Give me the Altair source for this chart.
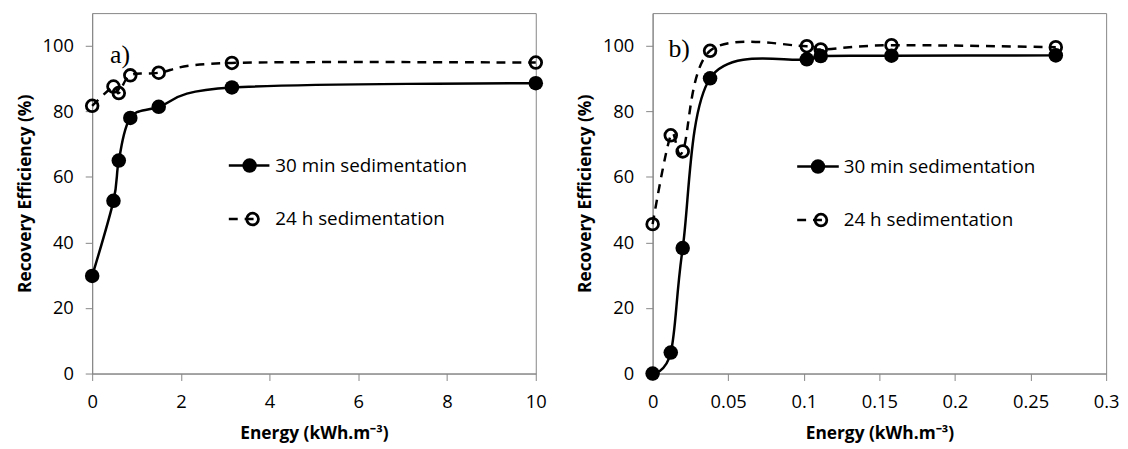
import altair as alt
import pandas as pd

# ---------------- data ----------------
# Panel a)
a_x_30min = [0.0, 0.48, 0.6, 0.86, 1.5, 3.15, 10.0]
a_y_30min = [29.8, 52.7, 65.0, 78.0, 81.4, 87.3, 88.6]
a_x_24h = [0.0, 0.48, 0.6, 0.86, 1.5, 3.15, 10.0]
a_y_24h = [81.7, 87.6, 85.6, 91.0, 91.8, 94.8, 94.9]

# Panel b)
b_x_30min = [0.0, 0.012, 0.0199, 0.038, 0.1020, 0.1112, 0.158, 0.2667]
b_y_30min = [0.0, 6.4, 38.3, 90.1, 95.9, 96.9, 97.0, 97.1]
b_x_24h = [0.0, 0.012, 0.0199, 0.038, 0.1020, 0.1112, 0.158, 0.2667]
b_y_24h = [45.6, 72.7, 67.8, 98.5, 99.9, 98.9, 100.2, 99.6]

series_names = ["30 min sedimentation", "24 h sedimentation"]
panel_labels = ["a)", "b)"]
a_ticks = [0, 2, 4, 6, 8, 10]
b_ticks = [0, 0.05, 0.1, 0.15, 0.2, 0.25, 0.3]
y_ticks = [0, 20, 40, 60, 80, 100]

X_TITLE = "Energy (kWh.m\u207b\u00b3)"
Y_TITLE = "Recovery Efficiency (%)"

GRAY = "#868686"
FONT = "Open Sans"


def panel(xs1, ys1, xs2, ys2, xdomain, xticks, xfmt, label, width,
          leg_line, leg_circle, leg_text, leg_rows, label_pos):
    d1 = pd.DataFrame({"E": xs1, "R": ys1, "s": series_names[0]})
    d2 = pd.DataFrame({"E": xs2, "R": ys2, "s": series_names[1]})

    x = alt.X("E:Q", scale=alt.Scale(domain=xdomain, nice=False, zero=False),
              axis=alt.Axis(values=xticks, format=xfmt, title=X_TITLE))
    y = alt.Y("R:Q", scale=alt.Scale(domain=[0, 110], nice=False),
              axis=alt.Axis(values=y_ticks, format="d", title=Y_TITLE))

    line1 = alt.Chart(d1).mark_line(color="black", strokeWidth=2.5,
                                    interpolate="cardinal").encode(x=x, y=y)
    line2 = alt.Chart(d2).mark_line(color="black", strokeWidth=2.5,
                                    strokeDash=[9, 7],
                                    interpolate="cardinal").encode(x=x, y=y)
    pts1 = alt.Chart(d1).mark_point(shape="circle", filled=True, color="black",
                                    size=215, opacity=1).encode(x=x, y=y)
    pts2 = alt.Chart(d2).mark_point(shape="circle", filled=False, color="black",
                                    size=140, strokeWidth=2.8,
                                    opacity=1).encode(x=x, y=y)

    # legend (drawn inside the plot area)
    r1, r2 = leg_rows
    one = pd.DataFrame({"k": [0]})
    lg_l1 = alt.Chart(one).mark_rule(color="black", strokeWidth=2.5).encode(
        x=alt.value(leg_line[0]), x2=alt.value(leg_line[1]), y=alt.value(r1))
    lg_p1 = alt.Chart(one).mark_point(shape="circle", filled=True, color="black",
                                      size=215, opacity=1).encode(
        x=alt.value(leg_circle), y=alt.value(r1))
    lg_l2 = alt.Chart(one).mark_rule(color="black", strokeWidth=2.5,
                                     strokeDash=[9, 7]).encode(
        x=alt.value(leg_line[0]), x2=alt.value(leg_circle + 8), y=alt.value(r2))
    lg_p2 = alt.Chart(one).mark_point(shape="circle", filled=False, color="black",
                                      size=140, strokeWidth=2.8, opacity=1).encode(
        x=alt.value(leg_circle + 3), y=alt.value(r2))
    tdf = pd.DataFrame({"t": series_names, "yy": [r1, r2]})
    lg_t = alt.Chart(tdf).mark_text(align="left", baseline="middle", font=FONT,
                                    fontSize=19, color="black").encode(
        x=alt.value(leg_text), y=alt.Y("yy:Q", scale=None), text="t:N")

    ldf = pd.DataFrame({"t": [label]})
    lab = alt.Chart(ldf).mark_text(align="left", baseline="alphabetic",
                                   font="Liberation Serif", fontSize=26,
                                   color="black").encode(
        x=alt.value(label_pos[0]), y=alt.value(label_pos[1]), text="t:N")

    return alt.layer(line1, line2, pts1, pts2, lg_l1, lg_p1, lg_l2, lg_p2,
                     lg_t, lab).properties(width=width, height=364)


left = panel(a_x_30min, a_y_30min, a_x_24h, a_y_24h, [0, 10], a_ticks, "d",
             panel_labels[0], 448,
             leg_line=(138, 179), leg_circle=159, leg_text=185,
             leg_rows=(154, 208), label_pos=(18, 50))
right = panel(b_x_30min, b_y_30min, b_x_24h, b_y_24h, [0, 0.3], b_ticks, ".2~f",
              panel_labels[1], 458,
              leg_line=(146, 188), leg_circle=167, leg_text=193,
              leg_rows=(155, 209), label_pos=(16, 44))

chart = alt.hconcat(left, right, spacing=27).properties(
    padding={"left": 7, "top": 2, "right": 0, "bottom": 0}
).configure_view(stroke=GRAY, strokeWidth=1).configure_axis(
    domainColor=GRAY, tickColor=GRAY, tickSize=7, grid=False,
    labelFont=FONT, labelFontSize=18.5, labelColor="black", labelPadding=12,
    titleFont=FONT, titleFontSize=17.5, titleFontWeight="bold", titleColor="black",
    labelFlush=False, labelOverlap=False
).configure_axisY(titlePadding=8).configure_axisX(titlePadding=14)

chart.save("out.html", embed_options={"renderer": "svg", "actions": False})
